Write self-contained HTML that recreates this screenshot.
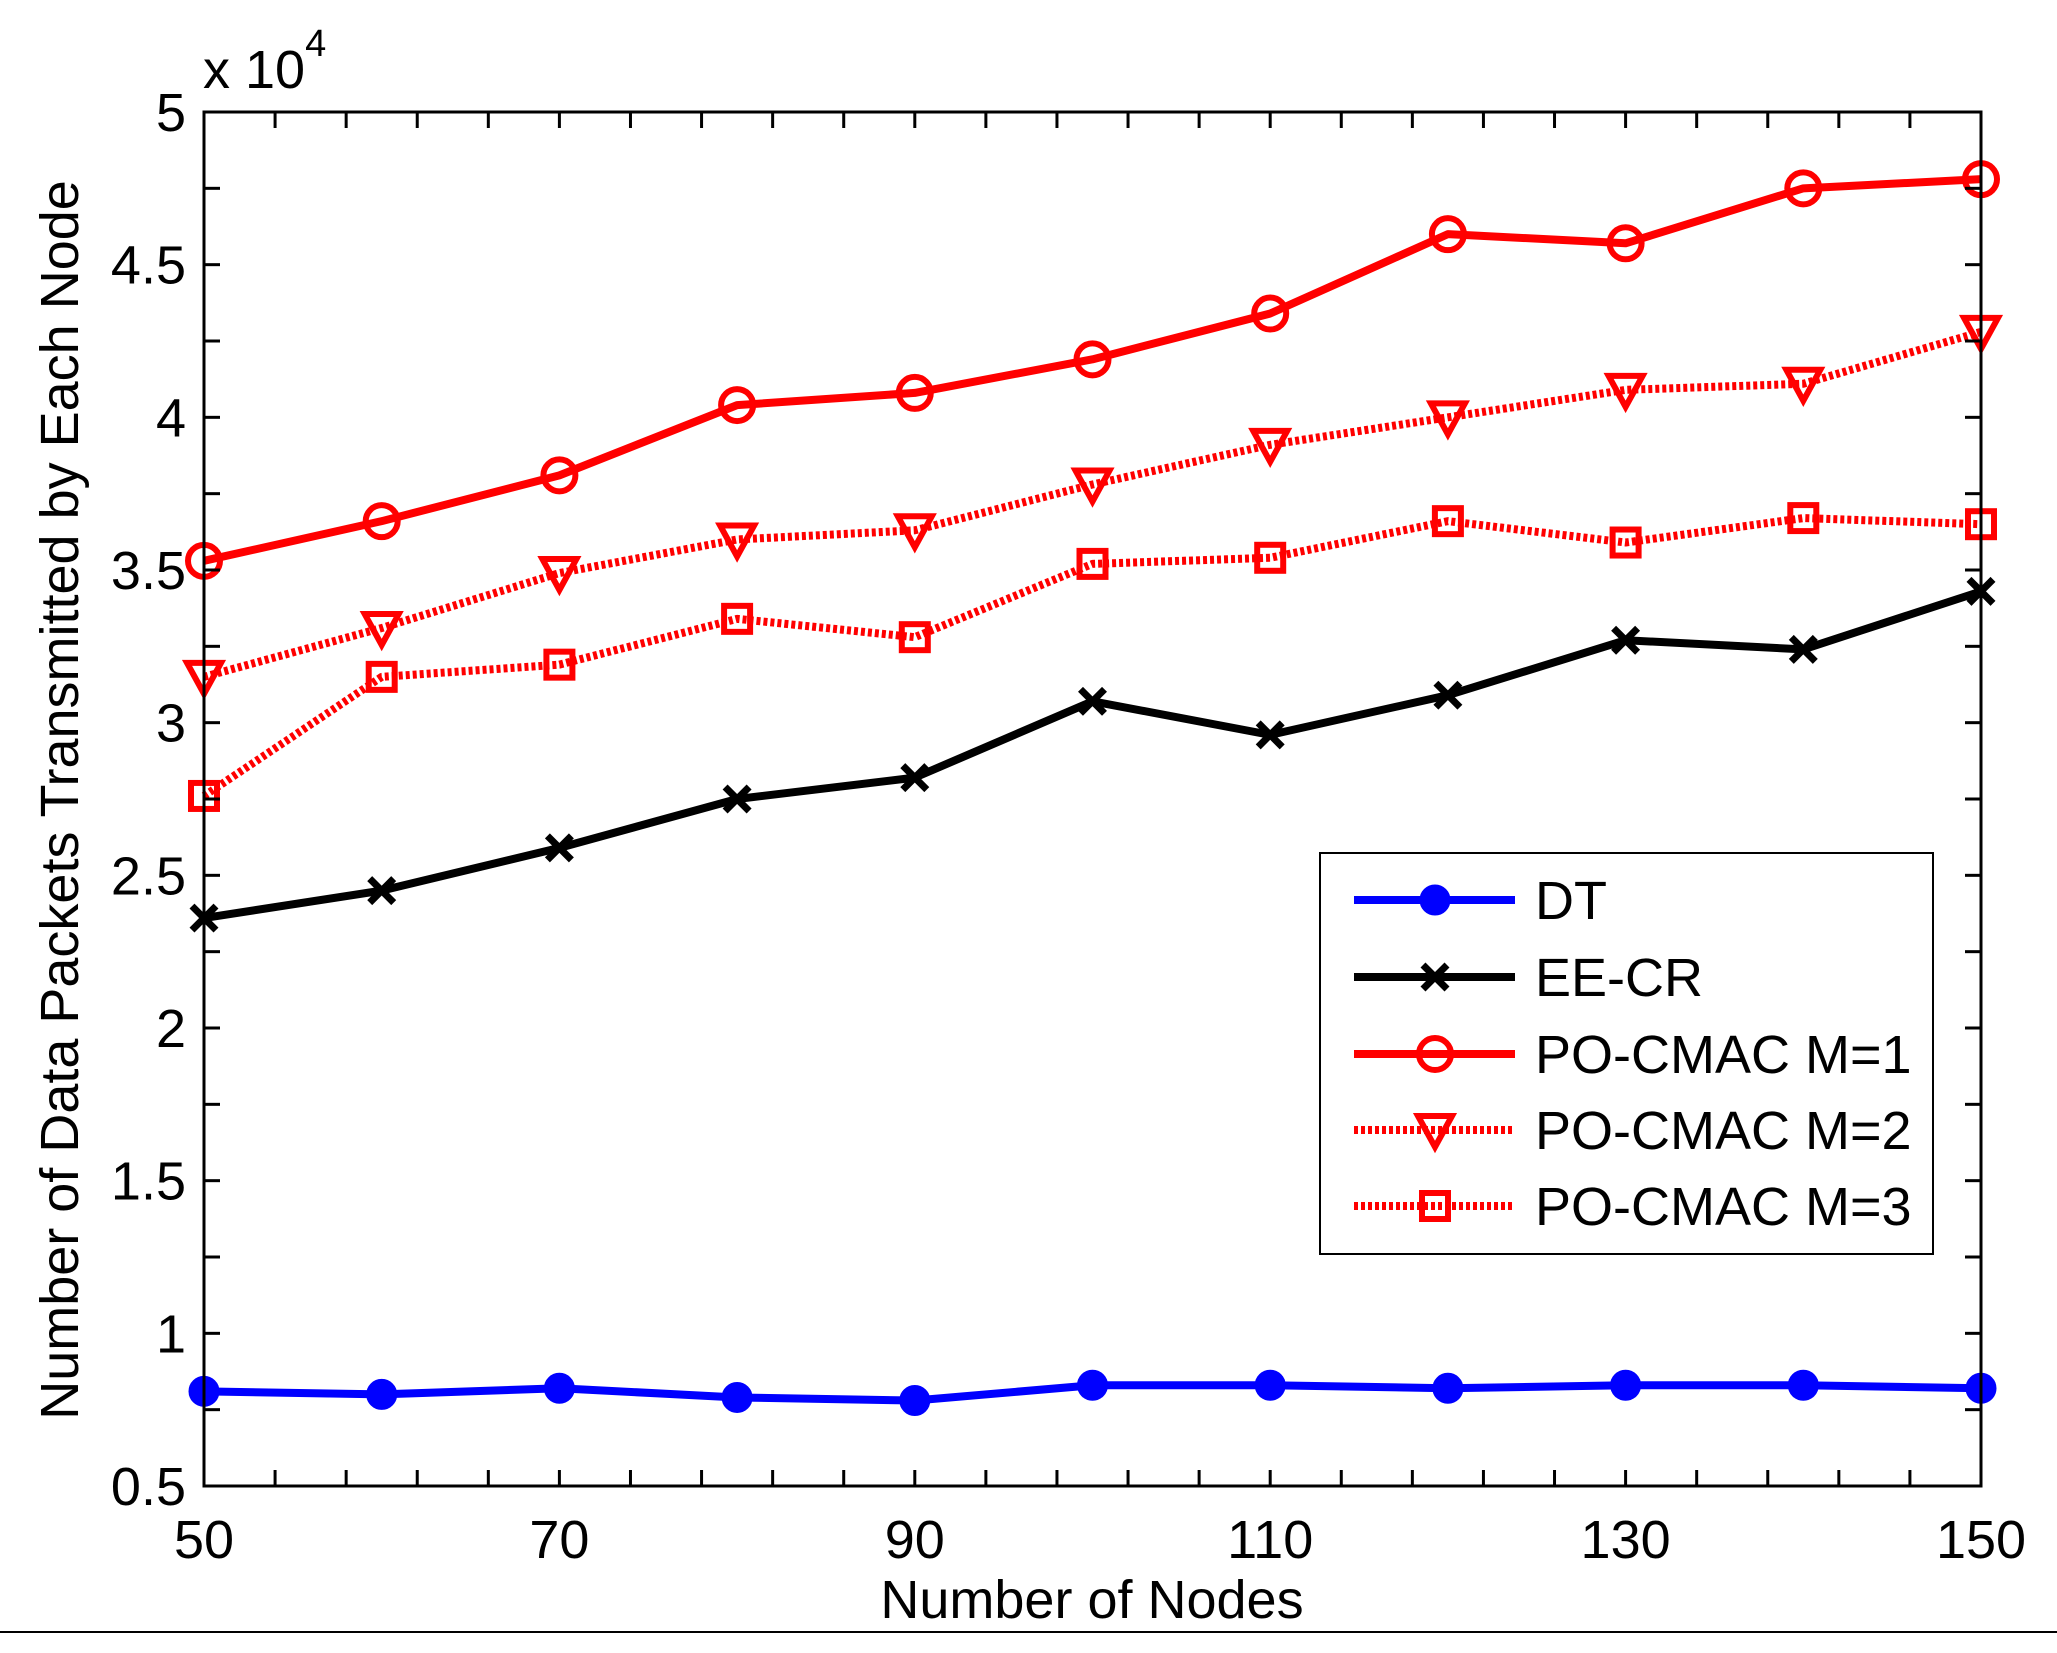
<!DOCTYPE html>
<html><head><meta charset="utf-8"><style>
html,body{margin:0;padding:0;background:#fff;}
svg text{font-family:"Liberation Sans",Arial,sans-serif;fill:#000;}
</style></head><body>
<svg id="chart" width="2057" height="1648" viewBox="0 0 2057 1648" xmlns="http://www.w3.org/2000/svg">
<rect x="0" y="0" width="2057" height="1648" fill="#fff"/>
<line x1="0" y1="1632" x2="2057" y2="1632" stroke="#000" stroke-width="2"/>
<g id="series"></g>
<g id="axes"></g>
<g id="legend"></g>
</svg>
<script>
const nodes = [50,60,70,80,90,100,110,120,130,140,150];
const dt = [0.81,0.80,0.82,0.79,0.78,0.83,0.83,0.82,0.83,0.83,0.82];
const eecr = [2.36,2.45,2.59,2.75,2.82,3.07,2.96,3.09,3.27,3.24,3.43];
const m1 = [3.53,3.66,3.81,4.04,4.08,4.19,4.34,4.60,4.57,4.75,4.78];
const m2 = [3.15,3.31,3.49,3.60,3.63,3.78,3.91,4.00,4.09,4.11,4.28];
const m3 = [2.76,3.15,3.19,3.34,3.28,3.52,3.54,3.66,3.59,3.67,3.65];
const xTicks = [50,70,90,110,130,150];
const yTicks = [0.5,1,1.5,2,2.5,3,3.5,4,4.5,5];
const seriesNames = ["DT","EE-CR","PO-CMAC M=1","PO-CMAC M=2","PO-CMAC M=3"];

const L=204,R=1981,T=112,B=1486;
const X=v=>L+(v-50)/100*(R-L);
const Y=v=>B-(v-0.5)/4.5*(B-T);
const NS="http://www.w3.org/2000/svg";
function mk(tag,attrs,parent){const e=document.createElementNS(NS,tag);for(const k in attrs)e.setAttribute(k,attrs[k]);parent.appendChild(e);return e;}
const axes=document.getElementById('axes'), ser=document.getElementById('series'), leg=document.getElementById('legend');

let fr=mk('rect',{x:L,y:T,width:R-L,height:B-T,fill:'none',stroke:'#000','stroke-width':3},axes);


for(let v=50;v<=150;v+=4){
  mk('line',{x1:X(v),y1:B,x2:X(v),y2:B-16,stroke:'#000','stroke-width':3},axes);
  mk('line',{x1:X(v),y1:T,x2:X(v),y2:T+16,stroke:'#000','stroke-width':3},axes);
}
for(let v=0.5;v<=5.001;v+=0.25){
  mk('line',{x1:L,y1:Y(v),x2:L+16,y2:Y(v),stroke:'#000','stroke-width':3},axes);
  mk('line',{x1:R,y1:Y(v),x2:R-16,y2:Y(v),stroke:'#000','stroke-width':3},axes);
}
xTicks.forEach(v=>{
  const t=mk('text',{x:X(v),y:B+72,'font-size':54,'text-anchor':'middle'},axes);
  t.textContent=v;
  
  
});
yTicks.forEach(v=>{
  const t=mk('text',{x:L-18,y:Y(v)+19,'font-size':54,'text-anchor':'end'},axes);
  t.textContent=v;
  
  
});
let ex=mk('text',{x:203,y:88,'font-size':54},axes);
ex.innerHTML='x 10<tspan dy="-32" font-size="38">4</tspan>';


let xl=mk('text',{x:1092,y:1618,'font-size':54,'text-anchor':'middle'},axes);
xl.textContent='Number of Nodes';


let yl=mk('text',{x:0,y:0,'font-size':54,'text-anchor':'middle',transform:'translate(78,800) rotate(-90)'},axes);
yl.textContent='Number of Data Packets Transmitted by Each Node';



function marker(type,cx,cy,color,g){
  if(type==='dot'){mk('circle',{cx,cy,r:14,fill:color,stroke:color,'stroke-width':3},g);}
  else if(type==='x'){mk('path',{d:`M${cx-12} ${cy-12}L${cx+12} ${cy+12}M${cx-12} ${cy+12}L${cx+12} ${cy-12}`,stroke:color,'stroke-width':7,fill:'none'},g);}
  else if(type==='o'){mk('circle',{cx,cy,r:16,fill:'none',stroke:color,'stroke-width':6},g);}
  else if(type==='v'){mk('path',{d:`M${cx-17} ${cy-14}L${cx+17} ${cy-14}L${cx} ${cy+17}Z`,fill:'none',stroke:color,'stroke-width':6},g);}
  else if(type==='s'){mk('rect',{x:cx-13,y:cy-13,width:26,height:26,fill:'none',stroke:color,'stroke-width':6},g);}
}
const defs=[
 {d:dt,c:'#0000ff',m:'dot',dash:null,n:'series-dt'},
 {d:eecr,c:'#000',m:'x',dash:null,n:'series-ee-cr'},
 {d:m1,c:'#ff0000',m:'o',dash:null,n:'series-po-cmac-m1'},
 {d:m2,c:'#ff0000',m:'v',dash:'4,3',n:'series-po-cmac-m2'},
 {d:m3,c:'#ff0000',m:'s',dash:'4,3',n:'series-po-cmac-m3'}
];
defs.forEach(s=>{
  const g=mk('g',{},ser);
  
  
  const pts=s.d.map((v,i)=>X(nodes[i])+','+Y(v)).join(' ');
  const a={points:pts,fill:'none',stroke:s.c,'stroke-width':8,'stroke-linejoin':'round'};
  if(s.dash)a['stroke-dasharray']=s.dash;
  mk('polyline',a,g);
  s.d.forEach((v,i)=>marker(s.m,X(nodes[i]),Y(v),s.c,g));
});
let lb=mk('rect',{x:1320,y:853,width:613,height:401,fill:'#fff',stroke:'#000','stroke-width':2},leg);


const ly=[900,977,1054,1130,1206];
defs.forEach((s,i)=>{
  const g=mk('g',{},leg);
  
  
  const a={x1:1354,y1:ly[i],x2:1515,y2:ly[i],stroke:s.c,'stroke-width':8};
  if(s.dash)a['stroke-dasharray']=s.dash;
  mk('line',a,g);
  marker(s.m,1435,ly[i],s.c,g);
  const t=mk('text',{x:1535,y:ly[i]+19,'font-size':54},g);
  t.textContent=seriesNames[i];
});
</script>
</body></html>
